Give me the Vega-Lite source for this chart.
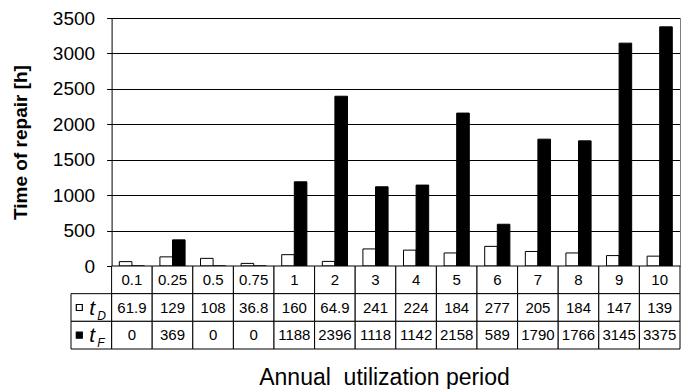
{
  "$schema": "https://vega.github.io/schema/vega-lite/v6.json",
  "padding": {"left": 11, "top": 9, "right": 5, "bottom": 0},
  "config": {"view": {"stroke": null}, "font": "Liberation Sans"},
  "datasets": {
    "repair": [
      {"period": "0.1", "tD": 61.9, "tF": 0},
      {"period": "0.25", "tD": 129, "tF": 369},
      {"period": "0.5", "tD": 108, "tF": 0},
      {"period": "0.75", "tD": 36.8, "tF": 0},
      {"period": "1", "tD": 160, "tF": 1188},
      {"period": "2", "tD": 64.9, "tF": 2396},
      {"period": "3", "tD": 241, "tF": 1118},
      {"period": "4", "tD": 224, "tF": 1142},
      {"period": "5", "tD": 184, "tF": 2158},
      {"period": "6", "tD": 277, "tF": 589},
      {"period": "7", "tD": 205, "tF": 1790},
      {"period": "8", "tD": 184, "tF": 1766},
      {"period": "9", "tD": 147, "tF": 3145},
      {"period": "10", "tD": 139, "tF": 3375}
    ],
    "series": [
      {"series": "tD", "sub": "D"},
      {"series": "tF", "sub": "F"}
    ]
  },
  "vconcat": [
    {
      "width": 609,
      "height": 248,
      "data": {"name": "repair"},
      "transform": [{"fold": ["tD", "tF"], "as": ["series", "hours"]}],
      "layer": [
        {
          "mark": {"type": "bar", "stroke": "black", "strokeWidth": 1},
          "encoding": {
            "x": {
              "field": "period", "type": "nominal", "sort": null,
              "scale": {"domain": ["0.1", "0.25", "0.5", "0.75", "1", "2", "3", "4", "5", "6", "7", "8", "9", "10"], "range": [40.6, 609], "paddingInner": 0.38, "paddingOuter": 0.19},
              "axis": null
            },
            "xOffset": {"field": "series", "type": "nominal", "scale": {"domain": ["tD", "tF"]}},
            "y": {
              "field": "hours", "type": "quantitative",
              "scale": {"domain": [0, 3500], "nice": false},
              "axis": {
                "values": [0, 500, 1000, 1500, 2000, 2500, 3000, 3500],
                "format": "d",
                "title": "Time of repair [h]", "offset": -40.6,
                "grid": true, "gridColor": "black", "gridOpacity": 1,
                "domainColor": "black", "tickColor": "black", "tickSize": 5,
                "labelFontSize": 19, "labelColor": "black", "labelPadding": 12,
                "titleFontSize": 19, "titleFontWeight": "bold", "titleColor": "black", "titlePadding": 22
              }
            },
            "fill": {"field": "series", "type": "nominal", "scale": {"domain": ["tD", "tF"], "range": ["white", "black"]}, "legend": null}
          }
        },
        {
          "mark": {"type": "rule", "opacity": 0},
          "encoding": {
            "y": {
              "field": "hours", "type": "quantitative",
              "axis": {"orient": "right", "labels": false, "ticks": false, "grid": false, "title": null, "domainColor": "#808080"}
            }
          }
        }
      ],
      "resolve": {"axis": {"y": "independent"}}
    },
    {
      "width": 609,
      "height": 83,
      "layer": [
        {
          "data": {"name": "repair"},
          "mark": {"type": "rect", "fill": "white", "stroke": "black", "strokeWidth": 1},
          "encoding": {
            "x": {"field": "period", "type": "nominal", "scale": {"domain": ["hdr", "0.1", "0.25", "0.5", "0.75", "1", "2", "3", "4", "5", "6", "7", "8", "9", "10"], "paddingInner": 0, "paddingOuter": 0},
                  "axis": {"title": "Annual\u00a0 utilization period", "titleX": 313, "labels": false, "ticks": false, "domain": false, "grid": false, "titleFontSize": 23, "titleFontWeight": "normal", "titleColor": "black", "titlePadding": 17}},
            "y": {"datum": "cat", "type": "nominal", "scale": {"domain": ["cat", "tD", "tF"], "paddingInner": 0, "paddingOuter": 0}, "axis": null}
          }
        },
        {
          "data": {"name": "repair"},
          "mark": {"type": "text", "fontSize": 15, "color": "black"},
          "encoding": {
            "x": {"field": "period", "type": "nominal", "scale": {"domain": ["hdr", "0.1", "0.25", "0.5", "0.75", "1", "2", "3", "4", "5", "6", "7", "8", "9", "10"], "paddingInner": 0, "paddingOuter": 0},
                  "axis": {"title": "Annual\u00a0 utilization period", "titleX": 313, "labels": false, "ticks": false, "domain": false, "grid": false, "titleFontSize": 23, "titleFontWeight": "normal", "titleColor": "black", "titlePadding": 17}},
            "y": {"datum": "cat", "type": "nominal", "scale": {"domain": ["cat", "tD", "tF"], "paddingInner": 0, "paddingOuter": 0}, "axis": null},
            "text": {"field": "period", "type": "nominal"}
          }
        },
        {
          "data": {"name": "repair"},
          "transform": [{"fold": ["tD", "tF"], "as": ["series", "hours"]}],
          "mark": {"type": "rect", "fill": "white", "stroke": "black", "strokeWidth": 1},
          "encoding": {
            "x": {"field": "period", "type": "nominal", "scale": {"domain": ["hdr", "0.1", "0.25", "0.5", "0.75", "1", "2", "3", "4", "5", "6", "7", "8", "9", "10"], "paddingInner": 0, "paddingOuter": 0},
                  "axis": {"title": "Annual\u00a0 utilization period", "titleX": 313, "labels": false, "ticks": false, "domain": false, "grid": false, "titleFontSize": 23, "titleFontWeight": "normal", "titleColor": "black", "titlePadding": 17}},
            "y": {"field": "series", "type": "nominal", "scale": {"domain": ["cat", "tD", "tF"], "paddingInner": 0, "paddingOuter": 0}, "axis": null}
          }
        },
        {
          "data": {"name": "repair"},
          "transform": [{"fold": ["tD", "tF"], "as": ["series", "hours"]}],
          "mark": {"type": "text", "fontSize": 15, "color": "black"},
          "encoding": {
            "x": {"field": "period", "type": "nominal", "scale": {"domain": ["hdr", "0.1", "0.25", "0.5", "0.75", "1", "2", "3", "4", "5", "6", "7", "8", "9", "10"], "paddingInner": 0, "paddingOuter": 0},
                  "axis": {"title": "Annual\u00a0 utilization period", "titleX": 313, "labels": false, "ticks": false, "domain": false, "grid": false, "titleFontSize": 23, "titleFontWeight": "normal", "titleColor": "black", "titlePadding": 17}},
            "y": {"field": "series", "type": "nominal", "scale": {"domain": ["cat", "tD", "tF"], "paddingInner": 0, "paddingOuter": 0}, "axis": null},
            "text": {"field": "hours", "type": "nominal"}
          }
        },
        {
          "data": {"name": "series"},
          "mark": {"type": "rect", "fill": "white", "stroke": "black", "strokeWidth": 1},
          "encoding": {
            "x": {"datum": "hdr", "type": "nominal", "scale": {"domain": ["hdr", "0.1", "0.25", "0.5", "0.75", "1", "2", "3", "4", "5", "6", "7", "8", "9", "10"], "paddingInner": 0, "paddingOuter": 0},
                  "axis": {"title": "Annual\u00a0 utilization period", "titleX": 313, "labels": false, "ticks": false, "domain": false, "grid": false, "titleFontSize": 23, "titleFontWeight": "normal", "titleColor": "black", "titlePadding": 17}},
            "y": {"field": "series", "type": "nominal", "scale": {"domain": ["cat", "tD", "tF"], "paddingInner": 0, "paddingOuter": 0}, "axis": null}
          }
        },
        {
          "data": {"name": "series"},
          "mark": {"type": "point", "shape": "square", "size": 36, "filled": true, "stroke": "black", "strokeWidth": 1.2, "opacity": 1, "xOffset": -12},
          "encoding": {
            "x": {"datum": "hdr", "type": "nominal", "scale": {"domain": ["hdr", "0.1", "0.25", "0.5", "0.75", "1", "2", "3", "4", "5", "6", "7", "8", "9", "10"], "paddingInner": 0, "paddingOuter": 0},
                  "axis": {"title": "Annual\u00a0 utilization period", "titleX": 313, "labels": false, "ticks": false, "domain": false, "grid": false, "titleFontSize": 23, "titleFontWeight": "normal", "titleColor": "black", "titlePadding": 17}},
            "y": {"field": "series", "type": "nominal", "scale": {"domain": ["cat", "tD", "tF"], "paddingInner": 0, "paddingOuter": 0}, "axis": null},
            "fill": {"field": "series", "type": "nominal", "scale": {"domain": ["tD", "tF"], "range": ["white", "black"]}, "legend": null}
          }
        },
        {
          "data": {"name": "series"},
          "mark": {"type": "text", "text": "t", "fontSize": 21, "fontStyle": "italic", "align": "left", "dx": -2, "dy": 1, "color": "black"},
          "encoding": {
            "x": {"datum": "hdr", "type": "nominal", "scale": {"domain": ["hdr", "0.1", "0.25", "0.5", "0.75", "1", "2", "3", "4", "5", "6", "7", "8", "9", "10"], "paddingInner": 0, "paddingOuter": 0},
                  "axis": {"title": "Annual\u00a0 utilization period", "titleX": 313, "labels": false, "ticks": false, "domain": false, "grid": false, "titleFontSize": 23, "titleFontWeight": "normal", "titleColor": "black", "titlePadding": 17}},
            "y": {"field": "series", "type": "nominal", "scale": {"domain": ["cat", "tD", "tF"], "paddingInner": 0, "paddingOuter": 0}, "axis": null}
          }
        },
        {
          "data": {"name": "series"},
          "mark": {"type": "text", "fontSize": 12, "fontStyle": "italic", "align": "left", "dx": 6, "dy": 8, "color": "black"},
          "encoding": {
            "x": {"datum": "hdr", "type": "nominal", "scale": {"domain": ["hdr", "0.1", "0.25", "0.5", "0.75", "1", "2", "3", "4", "5", "6", "7", "8", "9", "10"], "paddingInner": 0, "paddingOuter": 0},
                  "axis": {"title": "Annual\u00a0 utilization period", "titleX": 313, "labels": false, "ticks": false, "domain": false, "grid": false, "titleFontSize": 23, "titleFontWeight": "normal", "titleColor": "black", "titlePadding": 17}},
            "y": {"field": "series", "type": "nominal", "scale": {"domain": ["cat", "tD", "tF"], "paddingInner": 0, "paddingOuter": 0}, "axis": null},
            "text": {"field": "sub", "type": "nominal"}
          }
        }
      ]
    }
  ],
  "spacing": 0,
  "bounds": "flush"
}
